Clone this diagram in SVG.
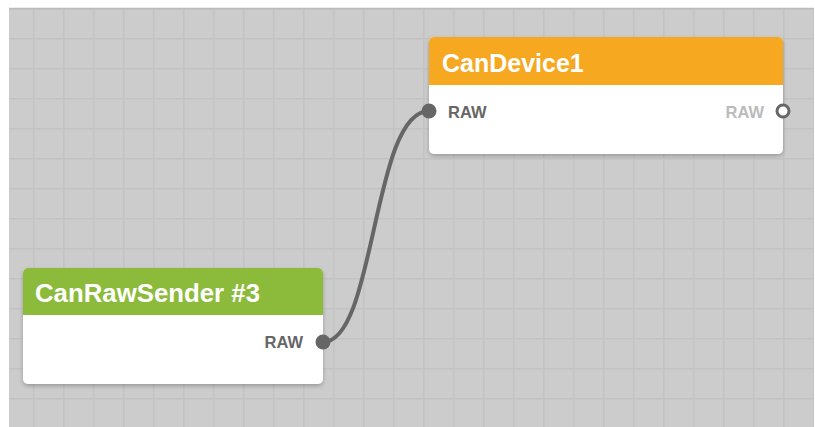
<svg xmlns="http://www.w3.org/2000/svg" width="815" height="427" viewBox="0 0 815 427">
<defs>
<pattern id="grid" x="3" y="8" width="30" height="30" patternUnits="userSpaceOnUse">
<rect width="30" height="30" fill="#cccccc"/>
<path d="M0 0.5H30M0.5 0V30" stroke="#c3c3c3" stroke-width="2" fill="none"/>
</pattern>
<filter id="sh" x="-10%" y="-10%" width="120%" height="130%">
<feDropShadow dx="0" dy="2" stdDeviation="2" flood-color="#000" flood-opacity="0.25"/>
</filter>
</defs>
<style>
.title{font-family:"Liberation Sans",Arial,sans-serif;font-size:25px;font-weight:bold;fill:#ffffff}
.port{font-family:"Liberation Sans",Arial,sans-serif;font-size:16.5px;font-weight:bold;fill:#666666}
.port.off{fill:#bbbbbb}
.body{fill:#ffffff}
.wire{fill:none;stroke:#666666;stroke-width:4;stroke-linecap:round}
</style>
<rect width="815" height="427" fill="#ffffff"/>
<rect x="9" y="8" width="805" height="419" fill="url(#grid)"/>
<line x1="9" y1="8.5" x2="814" y2="8.5" stroke="#bbbbbb" stroke-width="1.5"/>
<g id="connectors">
<path class="wire" d="M323 342 C376 342 372 111 429 111"/>
</g>
<g id="CanDevice1">
<g filter="url(#sh)">
<rect class="body" x="429" y="37" width="354" height="117" rx="5"/>
</g>
<path d="M429 85V42a5 5 0 0 1 5-5H778a5 5 0 0 1 5 5V85Z" fill="#f6a821"/>
<text class="title" x="442" y="71.5">CanDevice1</text>
<circle cx="429" cy="111" r="7.5" fill="#666666"/>
<text class="port" x="448" y="117.5">RAW</text>
<text class="port off" x="764" y="117.5" text-anchor="end">RAW</text>
<circle cx="783" cy="111" r="6" fill="#ffffff" stroke="#666666" stroke-width="3"/>
</g>
<g id="CanRawSender3">
<g filter="url(#sh)">
<rect class="body" x="23" y="268" width="300" height="116" rx="5"/>
</g>
<path d="M23 315V273a5 5 0 0 1 5-5H318a5 5 0 0 1 5 5V315Z" fill="#8cbb3c"/>
<text class="title" x="35" y="302" textLength="225" lengthAdjust="spacingAndGlyphs">CanRawSender #3</text>
<text class="port" x="303" y="348" text-anchor="end">RAW</text>
<circle cx="323" cy="342" r="7.5" fill="#666666"/>
</g>
</svg>
